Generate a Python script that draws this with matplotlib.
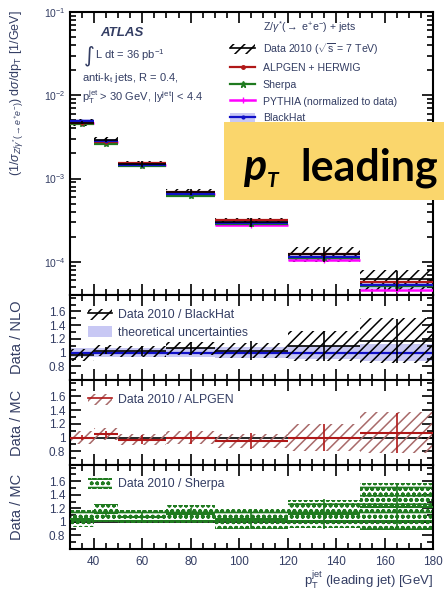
import numpy as np
import matplotlib
matplotlib.use("Agg")
import matplotlib.pyplot as plt
from matplotlib.patches import Rectangle
from matplotlib.lines import Line2D
from matplotlib.ticker import (MultipleLocator, LogLocator, NullFormatter,
                               FixedLocator, FuncFormatter)

plt.rcParams['font.family'] = ['Liberation Sans', 'DejaVu Sans']
plt.rcParams['mathtext.fontset'] = 'custom'
plt.rcParams['mathtext.rm'] = 'Liberation Sans'
plt.rcParams['mathtext.it'] = 'Liberation Sans:italic'
plt.rcParams['mathtext.bf'] = 'Liberation Sans:bold'
plt.rcParams['hatch.linewidth'] = 1.1

# ---- binning and measured spectrum ----
edges = [30, 40, 50, 70, 90, 120, 150, 180]
data = [4.7e-3, 2.9e-3, 1.5e-3, 6.9e-4, 3.0e-4, 1.25e-4, 6.2e-5]
data_sys_rel = [0.09, 0.08, 0.08, 0.09, 0.11, 0.20, 0.28]
data_err_rel = [0.04, 0.05, 0.07, 0.09, 0.13, 0.20, 0.27]

# ---- ratios data / prediction ----
ratio_nlo = [0.96, 1.03, 1.02, 1.06, 1.03, 1.10, 1.17]
theory_unc = [0.06, 0.06, 0.06, 0.07, 0.08, 0.10, 0.12]
ratio_alpgen = [1.00, 1.05, 0.97, 1.00, 0.95, 1.00, 1.07]
ratio_sherpa = [1.05, 1.13, 1.07, 1.11, 1.05, 1.12, 1.22]
sherpa_band_top = [1.17, 1.27, 1.17, 1.25, 1.20, 1.32, 1.57]
sherpa_band_bot = [0.93, 1.00, 0.98, 0.98, 0.90, 0.91, 0.88]
pythia = [4.6e-3, 2.75e-3, 1.45e-3, 6.5e-4, 2.8e-4, 1.06e-4, 4.6e-5]

x_ticks = [40, 60, 80, 100, 120, 140, 160, 180]
ratio_ticks = [0.8, 1.0, 1.2, 1.4, 1.6]

TXT = '#333d63'
RED = '#b01818'
GREEN = '#1f7a1f'
MAG = '#ff00ff'
BLUE = '#1010c8'
LBLUE = '#c8c8f4'
MAROON = '#a86a6a'
SH_HATCH = 'ooo--'

e = np.array(edges, float)
lo, hi = e[:-1], e[1:]
ctr, wid = 0.5 * (lo + hi), hi - lo
d = np.array(data)
sys_r = np.array(data_sys_rel)
err_r = np.array(data_err_rel)
r_nlo = np.array(ratio_nlo)
r_alp = np.array(ratio_alpgen)
r_sh = np.array(ratio_sherpa)
th = np.array(theory_unc)
blackhat = d / r_nlo
alpgen = d / r_alp
sherpa = d / r_sh
pyth = np.array(pythia)

W, H = 444, 596
fig = plt.figure(figsize=(W / 100, H / 100), dpi=100)


def rect(x0, y0, x1, y1):
    return [x0 / W, 1 - y1 / H, (x1 - x0) / W, (y1 - y0) / H]


ax0 = fig.add_axes(rect(69.5, 12, 433, 295))
ax1 = fig.add_axes(rect(69.5, 295, 433, 380), sharex=ax0)
ax2 = fig.add_axes(rect(69.5, 380, 433, 465), sharex=ax0)
ax3 = fig.add_axes(rect(69.5, 465, 433, 549), sharex=ax0)

# ---- main spectrum ----
ax0.set_yscale('log')
ax0.bar(lo, blackhat * 2 * th, bottom=blackhat * (1 - th), width=wid,
        align='edge', color=LBLUE, lw=0, zorder=1)
ax0.bar(lo, d * 2 * sys_r, bottom=d * (1 - sys_r), width=wid, align='edge',
        facecolor='none', edgecolor='k', hatch='///', lw=0, zorder=2)
ax0.hlines(pyth, lo, hi, color=MAG, lw=1.8, zorder=3)
ax0.plot(ctr, pyth, '+', color=MAG, ms=4, zorder=3)
ax0.hlines(sherpa, lo, hi, color=GREEN, lw=1.6, zorder=4)
ax0.plot(ctr, sherpa, '*', color=GREEN, ms=4, zorder=4)
ax0.hlines(alpgen, lo, hi, color=RED, lw=1.6, zorder=5)
ax0.plot(ctr, alpgen, '.', color=RED, ms=4, zorder=5)
ax0.hlines(blackhat, lo, hi, color=BLUE, lw=1.6, zorder=6)
ax0.plot(ctr, blackhat, '.', color=BLUE, ms=3, zorder=6)
ax0.hlines(d, lo, hi, color='k', lw=1.2, zorder=7)
ax0.vlines(ctr, d * (1 - err_r), d * (1 + err_r), color='k', lw=1.2, zorder=7)
ax0.set_ylim(4e-5, 0.1)
ax0.set_xlim(30, 180)

# ---- Data / NLO ----
ax1.bar(lo, 2 * th, bottom=1 - th, width=wid, align='edge', color=LBLUE,
        lw=0, zorder=1)
ax1.hlines(np.ones_like(ctr), lo, hi, color=BLUE, lw=1.6, zorder=2)
ax1.bar(lo, 2 * r_nlo * sys_r, bottom=r_nlo * (1 - sys_r), width=wid,
        align='edge', facecolor='none', edgecolor='k', hatch='///', lw=0,
        zorder=3)
ax1.hlines(r_nlo, lo, hi, color='k', lw=1.2, zorder=4)
ax1.vlines(ctr, r_nlo * (1 - err_r), r_nlo * (1 + err_r), color='k', lw=1.2,
           zorder=4)

# ---- Data / ALPGEN ----
ax2.axhline(1.0, color='k', lw=1.2, zorder=1)
ax2.bar(lo, 2 * r_alp * sys_r, bottom=r_alp * (1 - sys_r), width=wid,
        align='edge', facecolor='none', edgecolor=MAROON, hatch='///', lw=0,
        zorder=2)
ax2.hlines(r_alp, lo, hi, color=RED, lw=1.5, zorder=3)
ax2.vlines(ctr, r_alp * (1 - err_r), r_alp * (1 + err_r), color=RED, lw=1.2,
           zorder=3)

# ---- Data / Sherpa ----
plt.rcParams['hatch.linewidth'] = 1.2
sb_top = np.array(sherpa_band_top)
sb_bot = np.array(sherpa_band_bot)
ax3.axhline(1.0, color='k', lw=1.2, zorder=1)
ax3.bar(lo, sb_top - sb_bot, bottom=sb_bot, width=wid, align='edge',
        facecolor='none', edgecolor=GREEN, hatch=SH_HATCH, lw=0, zorder=2)
ax3.hlines(r_sh, lo, hi, color=GREEN, lw=1.5, zorder=3)
ax3.vlines(ctr, r_sh * (1 - err_r), r_sh * (1 + err_r), color=GREEN, lw=1.2,
           zorder=3)
h_sh_band = Rectangle((0, 0), 1, 1, facecolor='none', edgecolor=GREEN,
                      hatch=SH_HATCH, lw=0)
plt.rcParams['hatch.linewidth'] = 1.1

# ---- axes styling ----
for ax in (ax0, ax1, ax2, ax3):
    for s in ax.spines.values():
        s.set_linewidth(1.5)
    ax.xaxis.set_major_locator(FixedLocator(x_ticks))
    ax.xaxis.set_minor_locator(MultipleLocator(5))
    ax.tick_params(which='both', direction='in', top=True, right=True,
                   width=1.2, labelcolor=TXT, labelsize=8.5, pad=3)
    ax.tick_params(which='major', length=8)
    ax.tick_params(which='minor', length=4.5)

ax0.yaxis.set_major_locator(LogLocator(base=10, numticks=10))
ax0.yaxis.set_minor_locator(LogLocator(base=10, subs=np.arange(2, 10),
                                       numticks=20))
ax0.yaxis.set_minor_formatter(NullFormatter())
ax0.tick_params(axis='y', labelsize=7.5)

for ax in (ax1, ax2, ax3):
    ax.set_ylim(0.6, 1.84)
    ax.yaxis.set_major_locator(FixedLocator(ratio_ticks))
    ax.yaxis.set_minor_locator(FixedLocator([0.6, 0.7, 0.9, 1.1, 1.3, 1.5,
                                             1.7, 1.8]))
    ax.yaxis.set_major_formatter(FuncFormatter(lambda v, p: f'{v:g}'))

for ax in (ax0, ax1, ax2):
    ax.tick_params(labelbottom=False)
ax3.tick_params(axis='x', pad=5)

# ---- axis titles ----
fig.text(17 / W, 1 - 10 / H,
         r'(1/$\sigma_{Z/\gamma^{*}(\rightarrow e^{+}e^{-})}$) d$\sigma$/dp$_{\rm T}$ [1/GeV]',
         rotation=90, ha='center', va='top', fontsize=9, color=TXT)
fig.text(17 / W, 1 - 337.5 / H, 'Data / NLO', rotation=90, ha='center',
         va='center', fontsize=10.5, color=TXT)
fig.text(17 / W, 1 - 422.5 / H, 'Data / MC', rotation=90, ha='center',
         va='center', fontsize=10.5, color=TXT)
fig.text(17 / W, 1 - 507 / H, 'Data / MC', rotation=90, ha='center',
         va='center', fontsize=10.5, color=TXT)
fig.text(433 / W, 1 - 580 / H, r'p$_{\rm T}^{\rm jet}$ (leading jet) [GeV]',
         ha='right', va='center', fontsize=9.5, color=TXT)

# ---- labels inside the spectrum panel ----
fig.text(100 / W, 1 - 33 / H, 'ATLAS', fontsize=9.5, fontweight='bold',
         fontstyle='italic', color=TXT, va='center')
fig.text(84 / W, 1 - 56 / H, '\u222b', fontsize=15, color=TXT, va='center',
         family=['DejaVu Sans'])
fig.text(95 / W, 1 - 55 / H, r'L dt = 36 pb$^{-1}$', fontsize=8,
         color=TXT, va='center')
fig.text(82 / W, 1 - 78 / H, r'anti-k$_{\rm t}$ jets, R = 0.4,', fontsize=8,
         color=TXT, va='center')
fig.text(82 / W, 1 - 97 / H,
         r'p$_{\rm T}^{\rm jet}$ > 30 GeV, |y$^{\rm jet}$| < 4.4',
         fontsize=8, color=TXT, va='center')

# ---- legends ----
h_title = Line2D([], [], color='none')
h_data = (Rectangle((0, 0), 1, 1, facecolor='none', edgecolor='k',
                    hatch='///', lw=0),
          Line2D([], [], color='k', lw=1.2))
h_alp = Line2D([], [], color=RED, lw=1.6, marker='.', ms=5)
h_sh = Line2D([], [], color=GREEN, lw=1.6, marker='*', ms=5)
h_py = Line2D([], [], color=MAG, lw=1.8, marker='+', ms=4)
h_bh = (Rectangle((0, 0), 1, 1, facecolor=LBLUE, lw=0),
        Line2D([], [], color=BLUE, lw=1.6, marker='.', ms=4))
leg0 = ax0.legend([h_title, h_data, h_alp, h_sh, h_py, h_bh],
                  [r'Z/$\gamma^{*}$($\rightarrow$ e$^{+}$e$^{-}$) + jets',
                   r'Data 2010 ($\sqrt{\rm s}$ = 7 TeV)',
                   'ALPGEN + HERWIG', 'Sherpa',
                   'PYTHIA (normalized to data)', 'BlackHat'],
                  loc='upper left', bbox_to_anchor=(0.4415, 0.976),
                  frameon=False, fontsize=7.6, handlelength=2.4,
                  handletextpad=0.7, labelspacing=0.6, borderpad=0,
                  borderaxespad=0, handleheight=1.0)
for t in leg0.get_texts():
    t.set_color(TXT)

leg1 = ax1.legend([(Rectangle((0, 0), 1, 1, facecolor='none', edgecolor='k',
                              hatch='///', lw=0),
                    Line2D([], [], color='k', lw=1.2)),
                   Rectangle((0, 0), 1, 1, facecolor=LBLUE, lw=0)],
                  ['Data 2010 / BlackHat', 'theoretical uncertainties'],
                  loc='upper left', bbox_to_anchor=(0.05, 0.84),
                  frameon=False, fontsize=8.8, handlelength=2.0,
                  handletextpad=0.5, labelspacing=0.4, borderpad=0,
                  borderaxespad=0, handleheight=1.0)
leg2 = ax2.legend([(Rectangle((0, 0), 1, 1, facecolor='none',
                              edgecolor=MAROON, hatch='///', lw=0),
                    Line2D([], [], color=RED, lw=1.2))],
                  ['Data 2010 / ALPGEN'], loc='upper left',
                  bbox_to_anchor=(0.05, 0.84), frameon=False, fontsize=8.8,
                  handlelength=2.0, handletextpad=0.5, borderpad=0,
                  borderaxespad=0, handleheight=1.0)
leg3 = ax3.legend([h_sh_band], ['Data 2010 / Sherpa'], loc='upper left',
                  bbox_to_anchor=(0.05, 0.85), frameon=False, fontsize=8.8,
                  handlelength=2.0, handletextpad=0.5, borderpad=0,
                  borderaxespad=0, handleheight=1.0)
for lg in (leg1, leg2, leg3):
    for t in lg.get_texts():
        t.set_color(TXT)

# ---- highlighted caption ----
fig.add_artist(Rectangle((224 / W, 1 - 200 / H), 1, 78 / H,
                         transform=fig.transFigure, facecolor='#fad66c',
                         edgecolor='none', zorder=10))
fig.text(243 / W, 1 - 180 / H, 'p', fontsize=31, fontweight='bold',
         fontstyle='italic', family=['Lato', 'DejaVu Sans'], color='k',
         va='baseline', zorder=11)
fig.text(267 / W, 1 - 187 / H, 'T', fontsize=15, fontweight='bold',
         fontstyle='italic', family=['Lato', 'DejaVu Sans'], color='k',
         va='baseline', zorder=11)
fig.text(300 / W, 1 - 180 / H, 'leading', fontsize=31, fontweight='bold',
         family=['Lato', 'DejaVu Sans'], color='k', va='baseline', zorder=11)

fig.savefig('out.png', dpi=100)
